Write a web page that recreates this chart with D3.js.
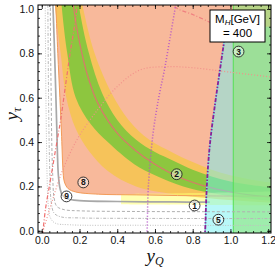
<!DOCTYPE html>
<html>
<head>
<meta charset="utf-8">
<script src="https://cdn.jsdelivr.net/npm/d3@7"></script>
<style>
  body { margin: 0; background: #fff; }
  svg { display: block; }
  text { font-family: "Liberation Sans", Arial, sans-serif; }
</style>
</head>
<body>
<svg id="chart" width="275" height="270"></svg>
<script>
// ticks
var xTicks = [0, 0.2, 0.4, 0.6, 0.8, 1.0, 1.2]
var yTicks = [0, 0.2, 0.4, 0.6, 0.8, 1.0]
var legendMass = 400

// region 8 boundary (salmon), region 9 line (gray solid)
var salmonEdge = [[0.072,1.05],[0.075,1.0],[0.085,0.8],[0.096,0.6],[0.104,0.45],[0.108,0.36],[0.112,0.28],[0.12,0.22],[0.14,0.19],[0.18,0.175],[0.3,0.165],[0.5,0.162],[0.8,0.158],[1.25,0.155]]
var grayEdge = [[0.058,1.05],[0.06,1.0],[0.068,0.8],[0.075,0.6],[0.08,0.45],[0.083,0.35],[0.088,0.25],[0.097,0.19],[0.11,0.16],[0.14,0.143],[0.2,0.136],[0.4,0.132],[0.7,0.13],[0.89,0.129]]

// region 2 bands
var yellowUpper = [[0.21,1.05],[0.22,1.0],[0.28,0.8],[0.37,0.62],[0.46,0.5],[0.57,0.41],[0.7,0.35],[0.8,0.31],[0.9,0.275],[1.0,0.25],[1.1,0.232],[1.25,0.212]]
var yellowLower = [[0.068,1.05],[0.072,1.0],[0.1,0.8],[0.13,0.6],[0.18,0.46],[0.25,0.36],[0.35,0.27],[0.5,0.2],[0.7,0.165],[0.9,0.145],[1.05,0.135],[1.25,0.125]]
var greenUpper = [[0.195,1.05],[0.2,1.0],[0.25,0.8],[0.32,0.62],[0.4,0.5],[0.5,0.41],[0.6,0.355],[0.7,0.315],[0.8,0.275],[0.9,0.245],[1.0,0.222],[1.1,0.207],[1.25,0.192]]
var greenLower = [[0.103,1.05],[0.107,1.0],[0.135,0.8],[0.18,0.6],[0.26,0.48],[0.35,0.4],[0.49,0.3],[0.6,0.25],[0.75,0.2],[0.9,0.17],[1.05,0.15],[1.25,0.132]]
var centerLine = [[0.165,1.05],[0.17,1.0],[0.2,0.85],[0.25,0.68],[0.3,0.57],[0.4,0.44],[0.5,0.36],[0.6,0.3],[0.72,0.245],[0.87,0.2],[1.0,0.175],[1.1,0.162],[1.25,0.15]]

// region 1 band
var band1Upper = [[0.42,0.165],[0.6,0.168],[0.9,0.172],[1.25,0.178]]
var band1Lower = [[0.42,0.12],[0.6,0.118],[0.9,0.116],[1.25,0.115]]

// region 5 (cyan) left edge, region 3 (green) left edge
var cyanEdge = [[0.863,-0.03],[0.866,0.0],[0.872,0.15],[0.882,0.3],[0.895,0.42],[0.915,0.55],[0.94,0.7],[0.966,0.85],[0.98,0.92]]
var greenX = 1.015

// other lines
var grayDashed = [[0.045,1.05],[0.047,0.8],[0.05,0.6],[0.053,0.4],[0.058,0.25],[0.065,0.15],[0.08,0.11],[0.12,0.095],[0.2,0.09],[0.5,0.087],[0.9,0.086],[1.25,0.085]]
var grayDashDot = [[0.032,1.05],[0.034,0.8],[0.036,0.6],[0.039,0.4],[0.043,0.25],[0.05,0.13],[0.065,0.08],[0.1,0.063],[0.2,0.058],[0.5,0.056],[1.25,0.055]]
var grayDotted = [[0.018,1.05],[0.02,0.8],[0.022,0.6],[0.025,0.4],[0.028,0.25],[0.034,0.12],[0.045,0.06],[0.07,0.035],[0.15,0.027],[0.5,0.025],[1.25,0.024]]
var redDotted = [[0.0,-0.02],[0.05,0.12],[0.1,0.25],[0.15,0.35],[0.2,0.43],[0.3,0.55],[0.4,0.65],[0.52,0.725],[0.65,0.74],[0.8,0.735],[1.0,0.715],[1.25,0.69]]
var redDashDot = [[0.004,-0.02],[0.02,0.1],[0.04,0.2],[0.06,0.3],[0.08,0.4],[0.1,0.5],[0.125,0.65],[0.15,0.8],[0.18,0.96],[0.19,1.05]]
var redDashDotTop = [[0.69,1.05],[0.706,1.01],[0.8,0.975],[0.89,0.94],[0.93,0.92]]
var purpleDotted = [[0.555,-0.03],[0.558,0.0],[0.565,0.2],[0.59,0.44],[0.62,0.6],[0.65,0.725],[0.68,0.87],[0.71,1.02],[0.715,1.05]]
var purpleDashDot = [[0.863,-0.03],[0.866,0.0],[0.872,0.15],[0.882,0.3],[0.895,0.42],[0.915,0.55],[0.94,0.7],[0.966,0.85]]

// circled region labels
var regionLabels = ['1','2','3','5','8','9']
var regionX = [0.81, 0.715, 1.043, 0.936, 0.22, 0.131]
var regionY = [0.114, 0.255, 0.808, 0.05, 0.218, 0.155]

var svg = d3.select('#chart')
var fLeft = 38, fRight = 271, fTop = 5, fBottom = 233

var x = d3.scaleLinear().domain([-0.02, 1.215]).range([fLeft, fRight])
var y = d3.scaleLinear().domain([-0.01, 1.018]).range([fBottom, fTop])

var line = d3.line()
  .x(function(d){ return x(d[0]) })
  .y(function(d){ return y(d[1]) })
  .curve(d3.curveCatmullRom.alpha(0.5))

function band(upper, lower){
  return line(upper) + 'L' + line(lower.slice().reverse()).slice(1) + 'Z'
}

svg.append('defs').append('clipPath').attr('id', 'frame')
  .append('rect').attr('x', fLeft).attr('y', fTop).attr('width', fRight-fLeft).attr('height', fBottom-fTop)

var g = svg.append('g').attr('clip-path', 'url(#frame)')

// salmon region 8
g.append('path')
  .attr('d', band(salmonEdge, [[0.072,1.2],[1.3,1.2]]))
  .attr('fill', '#f8b99b')

// region 2 bands
g.append('path').attr('d', band(yellowUpper, yellowLower)).attr('fill', '#f6c35a')
g.append('path').attr('d', band(greenUpper, greenLower)).attr('fill', '#8dc63f')

// region 1
g.append('path').attr('d', band(band1Upper, band1Lower))
  .attr('fill', '#ffff70').attr('opacity', 0.55)

g.append('path').attr('d', line(centerLine))
  .attr('fill', 'none').attr('stroke', '#d77a6a').attr('stroke-width', 1.2)

g.append('path').attr('d', line(salmonEdge))
  .attr('fill', 'none').attr('stroke', '#f39b58').attr('stroke-width', 1)

g.append('path').attr('d', line(grayEdge))
  .attr('fill', 'none').attr('stroke', '#a8a8a8').attr('stroke-width', 1.7)

// cyan region 5
g.append('path')
  .attr('d', band(cyanEdge, [[1.3,-0.05],[1.3,0.92]]))
  .attr('fill', '#71f1f1').attr('opacity', 0.5)

// green region 3
g.append('rect')
  .attr('x', x(greenX)).attr('y', fTop)
  .attr('width', fRight - x(greenX)).attr('height', fBottom - fTop)
  .attr('fill', '#8ce67a').attr('opacity', 0.6)

g.append('path').attr('d', line(cyanEdge))
  .attr('fill', 'none').attr('stroke', '#6ee6ee').attr('stroke-width', 1.2)

g.append('line')
  .attr('x1', x(greenX)).attr('x2', x(greenX)).attr('y1', fTop).attr('y2', fBottom)
  .attr('stroke', '#55e055').attr('stroke-width', 1)

function curve(pts, color, width, dash){
  g.append('path').attr('d', line(pts))
    .attr('fill', 'none').attr('stroke', color).attr('stroke-width', width)
    .attr('stroke-dasharray', dash)
}

curve(grayDashed, '#b0b0b0', 1, '3,2')
curve(grayDashDot, '#b8b8b8', 1, '3,1.5,1,1.5')
curve(grayDotted, '#c0c0c0', 1, '1,1.5')
curve(redDotted, '#f2908a', 1.2, '1,2')
curve(redDashDot, '#f07070', 1.2, '4,2,1,2')
curve(redDashDotTop, '#f08080', 1.2, '4,2,1,2')
curve(purpleDotted, '#b455c8', 1.5, '1,2')
curve(purpleDashDot, '#8a2296', 1.8, '4,1.5,1.5,1.5')

// circled labels
var lab = svg.append('g').selectAll('g').data(regionLabels).enter().append('g')
  .attr('transform', function(d, i){ return 'translate(' + x(regionX[i]) + ',' + y(regionY[i]) + ')' })
lab.append('circle').attr('r', 5.4)
  .attr('fill', 'rgba(255,255,255,0.45)').attr('stroke', '#222').attr('stroke-width', 0.9)
lab.append('text').text(function(d){ return d })
  .attr('text-anchor', 'middle').attr('dy', '0.36em')
  .attr('font-size', 8.5).attr('font-weight', 'bold').attr('fill', '#111')

// legend box
var lg = svg.append('g')
lg.append('rect').attr('x', 210).attr('y', 10).attr('width', 55).attr('height', 32)
  .attr('fill', '#fff').attr('stroke', '#000').attr('stroke-width', 1)
var t1 = lg.append('text').attr('x', 237.5).attr('y', 23).attr('text-anchor', 'middle')
  .attr('font-size', 11.5).attr('fill', '#000')
t1.append('tspan').text('M')
t1.append('tspan').text('H').attr('font-style', 'italic').attr('font-size', 8).attr('dy', 2)
t1.append('tspan').text('[GeV]').attr('dy', -2)
lg.append('text').attr('x', 237.5).attr('y', 36.5).attr('text-anchor', 'middle')
  .attr('font-size', 11.5).attr('fill', '#000').text('= ' + legendMass)

// frame
svg.append('rect').attr('x', fLeft).attr('y', fTop).attr('width', fRight-fLeft).attr('height', fBottom-fTop)
  .attr('fill', 'none').attr('stroke', '#000').attr('stroke-width', 1)

var xMinor = d3.range(0, 1.2001, 0.04)
var yMinor = d3.range(0, 1.0001, 0.04)
var fmt = d3.format('.1f')

function frameAxis(axis, tr, vals, size, labels){
  var a = svg.append('g').attr('transform', tr)
    .call(axis.tickValues(vals).tickSize(-size).tickPadding(4)
      .tickFormat(labels ? fmt : ''))
  a.select('.domain').remove()
  a.selectAll('line').attr('stroke', '#000').attr('stroke-width', 0.8)
  a.selectAll('text').attr('font-size', 10.5).attr('fill', '#111')
    .style('font-family', '"Liberation Sans", Arial, sans-serif')
  return a
}

frameAxis(d3.axisBottom(x), 'translate(0,' + fBottom + ')', xMinor, 2, false)
frameAxis(d3.axisBottom(x), 'translate(0,' + fBottom + ')', xTicks, 4, true)
frameAxis(d3.axisTop(x), 'translate(0,' + fTop + ')', xMinor, 2, false)
frameAxis(d3.axisTop(x), 'translate(0,' + fTop + ')', xTicks, 4, false)
frameAxis(d3.axisLeft(y), 'translate(' + fLeft + ',0)', yMinor, 2, false)
frameAxis(d3.axisLeft(y), 'translate(' + fLeft + ',0)', yTicks, 4, true)
frameAxis(d3.axisRight(y), 'translate(' + fRight + ',0)', yMinor, 2, false)
frameAxis(d3.axisRight(y), 'translate(' + fRight + ',0)', yTicks, 4, false)

// axis titles
var tx = svg.append('text').attr('x', 155).attr('y', 262).attr('text-anchor', 'middle')
  .attr('fill', '#111').style('font-family', '"Liberation Serif", "Times New Roman", serif')
  .attr('font-size', 19).attr('font-style', 'italic')
tx.append('tspan').text('y')
tx.append('tspan').text('Q').attr('font-size', 12).attr('dy', 3)

var ty = svg.append('text').attr('transform', 'translate(18,114) rotate(-90)').attr('text-anchor', 'middle')
  .attr('fill', '#111').style('font-family', '"Liberation Serif", "Times New Roman", serif')
  .attr('font-size', 19).attr('font-style', 'italic')
ty.append('tspan').text('y')
ty.append('tspan').text('τ').attr('font-size', 12.5).attr('dy', 3)
</script>
</body>
</html>
